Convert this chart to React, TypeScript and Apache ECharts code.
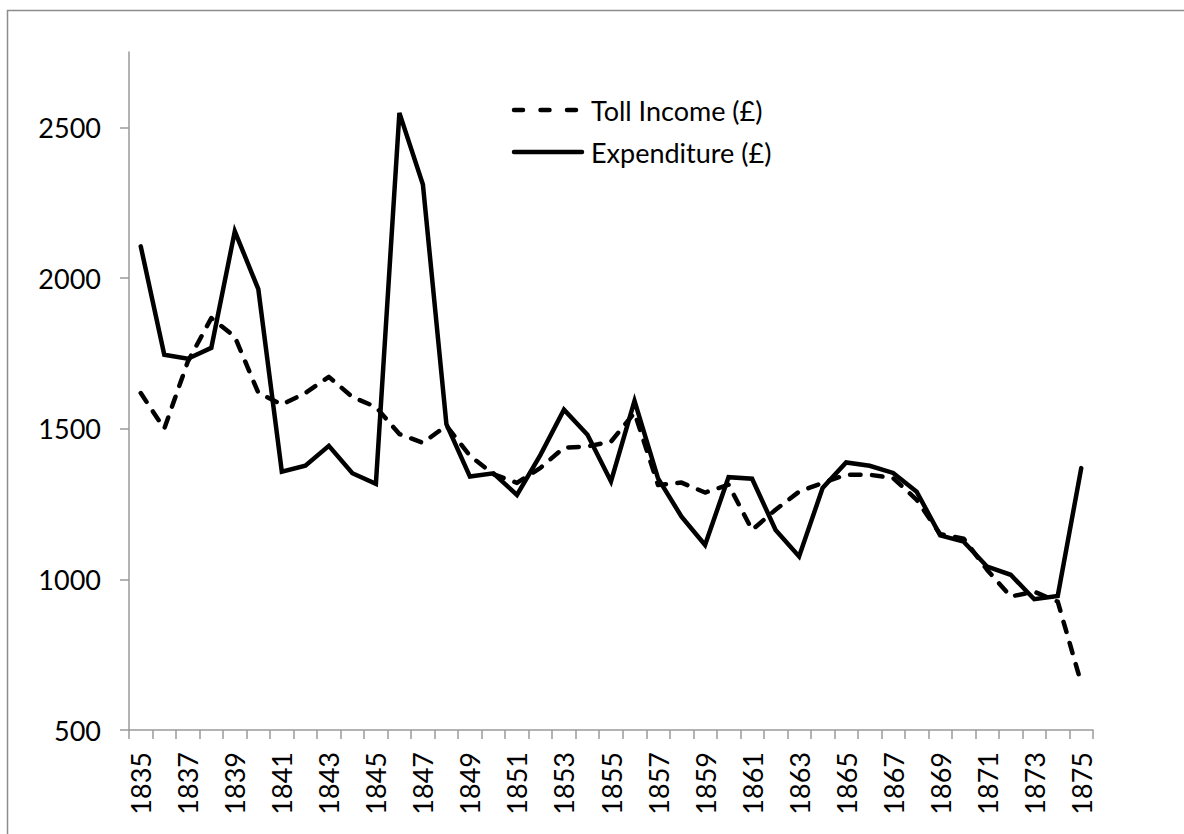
import React, { useEffect, useRef } from "react";
import * as echarts from "echarts";

const years: string[] = [
  "1835","1836","1837","1838","1839","1840","1841","1842","1843","1844",
  "1845","1846","1847","1848","1849","1850","1851","1852","1853","1854",
  "1855","1856","1857","1858","1859","1860","1861","1862","1863","1864",
  "1865","1866","1867","1868","1869","1870","1871","1872","1873","1874","1875",
];

const tollIncome: number[] = [
  1618, 1500, 1722, 1867, 1805, 1619, 1580, 1618, 1672, 1605,
  1572, 1482, 1453, 1510, 1410, 1349, 1320, 1370, 1437, 1441,
  1457, 1553, 1313, 1321, 1288, 1314, 1164, 1231, 1291, 1320,
  1347, 1347, 1336, 1264, 1150, 1135, 1031, 943, 959, 926, 655,
];

const expenditure: number[] = [
  2105, 1745, 1732, 1768, 2155, 1963, 1357, 1377, 1443, 1352,
  1317, 2548, 2310, 1515, 1341, 1352, 1280, 1413, 1563, 1480,
  1325, 1592, 1335, 1208, 1114, 1339, 1334, 1164, 1076, 1303,
  1388, 1377, 1353, 1291, 1146, 1125, 1042, 1015, 934, 945, 1369,
];

const yTicks: number[] = [500, 1000, 1500, 2000, 2500];
const seriesNames: string[] = ["Toll Income (£)", "Expenditure (£)"];

const FONT = "Lato, 'DejaVu Sans', sans-serif";
const FONT_SIZE = 27;
const AXIS_GREY = "#9a9a9a";
const LINE_W = 4.5;
const DASH = [10.5, 11.5];
const LEGEND_DASH = [9, 17.5];

export default function App() {
  const ref = useRef<HTMLDivElement>(null);

  useEffect(() => {
    if (!ref.current) return;
    const chart = echarts.init(ref.current, undefined, { renderer: "svg" });
    const legendX = 514;
    const legendY = [110, 152];
    chart.setOption({
      animation: false,
      backgroundColor: "#ffffff",
      textStyle: { fontFamily: FONT },
      graphic: [
        {
          type: "rect",
          shape: { x: 7.5, y: 10.5, width: 1300, height: 1000 },
          style: { fill: "none", stroke: "#8c8c8c", lineWidth: 1.5 },
          silent: true,
          z: -1,
        },
        {
          type: "line",
          shape: { x1: legendX, y1: legendY[0], x2: legendX + 62, y2: legendY[0] },
          style: { stroke: "#000", lineWidth: LINE_W, lineDash: LEGEND_DASH, lineCap: "round" },
          silent: true,
        },
        {
          type: "text",
          x: legendX + 77,
          y: legendY[0],
          style: { text: seriesNames[0], fontSize: FONT_SIZE, fontFamily: FONT, fill: "#000", verticalAlign: "middle" },
          silent: true,
        },
        {
          type: "line",
          shape: { x1: legendX, y1: legendY[1], x2: legendX + 68, y2: legendY[1] },
          style: { stroke: "#000", lineWidth: LINE_W, lineCap: "round" },
          silent: true,
        },
        {
          type: "text",
          x: legendX + 77,
          y: legendY[1],
          style: { text: seriesNames[1], fontSize: FONT_SIZE, fontFamily: FONT, fill: "#000", verticalAlign: "middle" },
          silent: true,
        },
      ],
      grid: { left: 129, top: 52, width: 964, height: 678, containLabel: false },
      xAxis: {
        type: "category",
        data: years,
        boundaryGap: true,
        axisLine: { lineStyle: { color: AXIS_GREY, width: 1.5 } },
        axisTick: { show: true, interval: 0, length: 9, lineStyle: { color: AXIS_GREY, width: 1.5 } },
        axisLabel: {
          interval: 1,
          rotate: 90,
          margin: 22,
          fontSize: FONT_SIZE,
          color: "#000",
          fontFamily: FONT,
        },
        splitLine: { show: false },
      },
      yAxis: {
        type: "value",
        min: 500,
        max: 2750,
        interval: 500,
        axisLine: { show: true, lineStyle: { color: AXIS_GREY, width: 1.5 } },
        axisTick: { show: true, length: 9, customValues: yTicks, lineStyle: { color: AXIS_GREY, width: 1.5 } },
        axisLabel: {
          customValues: yTicks,
          formatter: (v: number) => String(v),
          margin: 28,
          fontSize: FONT_SIZE,
          color: "#000",
          fontFamily: FONT,
        },
        splitLine: { show: false },
      },
      series: [
        {
          name: seriesNames[0],
          type: "line",
          data: tollIncome,
          symbol: "none",
          showSymbol: false,
          lineStyle: { color: "#000", width: LINE_W, type: DASH, cap: "round", join: "round" },
          itemStyle: { color: "#000" },
        },
        {
          name: seriesNames[1],
          type: "line",
          data: expenditure,
          symbol: "none",
          showSymbol: false,
          lineStyle: { color: "#000", width: LINE_W, type: "solid", cap: "round", join: "miter" },
          itemStyle: { color: "#000" },
        },
      ],
    });
    return () => chart.dispose();
  }, []);

  return (
    <div
      ref={ref}
      style={{ position: "absolute", left: 0, top: 0, width: 1184, height: 834 }}
    />
  );
}
